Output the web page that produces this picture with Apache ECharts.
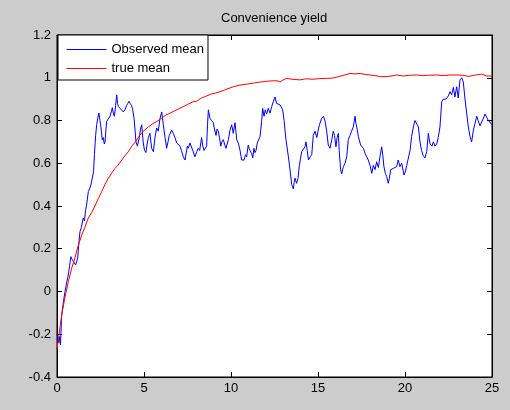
<!DOCTYPE html>
<html>
<head>
<meta charset="utf-8">
<title>Convenience yield</title>
<script src="https://cdn.jsdelivr.net/npm/echarts@6/dist/echarts.min.js"></script>
<style>
  html, body { margin: 0; padding: 0; background: #cccccc; }
  #chart { width: 510px; height: 410px; }
</style>
</head>
<body>
<div id="chart"></div>
<script>
// series, [time, value]
const observedMean = [
  [0, -0.2], [0.05, -0.22], [0.11, -0.24], [0.16, -0.21], [0.2, -0.25], [0.27, -0.11], [0.35, -0.06],
  [0.46, 0.0], [0.55, 0.04], [0.65, 0.077], [0.72, 0.12], [0.8, 0.163], [0.87, 0.15], [0.94, 0.147],
  [1.07, 0.124], [1.19, 0.157], [1.25, 0.22], [1.32, 0.28], [1.4, 0.3], [1.51, 0.344], [1.58, 0.33],
  [1.64, 0.38], [1.7, 0.405], [1.8, 0.467], [1.87, 0.48], [1.95, 0.498], [2.05, 0.5], [2.1, 0.56],
  [2.15, 0.64], [2.22, 0.73], [2.28, 0.78], [2.34, 0.81], [2.41, 0.835], [2.47, 0.8], [2.53, 0.765],
  [2.6, 0.71], [2.66, 0.72], [2.72, 0.69], [2.76, 0.7], [2.85, 0.795], [2.95, 0.8], [3.05, 0.82],
  [3.12, 0.84], [3.18, 0.86], [3.25, 0.83], [3.3, 0.82], [3.37, 0.87], [3.43, 0.92], [3.48, 0.88],
  [3.53, 0.865], [3.6, 0.87], [3.7, 0.85], [3.81, 0.84], [3.9, 0.85], [4.0, 0.87], [4.07, 0.88],
  [4.14, 0.89], [4.2, 0.88], [4.29, 0.87], [4.35, 0.85], [4.43, 0.81], [4.54, 0.7], [4.62, 0.68],
  [4.73, 0.72], [4.8, 0.76], [4.87, 0.78], [4.95, 0.7], [5.03, 0.66], [5.11, 0.65], [5.18, 0.69],
  [5.25, 0.72], [5.34, 0.74], [5.44, 0.67], [5.54, 0.654], [5.63, 0.72], [5.73, 0.765], [5.82, 0.75],
  [5.92, 0.81], [6.02, 0.84], [6.11, 0.78], [6.21, 0.72], [6.3, 0.67], [6.38, 0.7], [6.45, 0.73],
  [6.59, 0.755], [6.68, 0.74], [6.78, 0.72], [6.88, 0.695], [6.97, 0.7], [7.07, 0.68], [7.15, 0.66],
  [7.26, 0.63], [7.36, 0.615], [7.41, 0.62], [7.49, 0.68], [7.55, 0.67], [7.64, 0.695], [7.7, 0.69],
  [7.8, 0.66], [7.93, 0.63], [8.03, 0.654], [8.12, 0.67], [8.2, 0.66], [8.31, 0.72], [8.38, 0.68],
  [8.45, 0.66], [8.52, 0.67], [8.6, 0.68], [8.65, 0.78], [8.7, 0.85], [8.79, 0.81], [8.88, 0.8],
  [8.98, 0.79], [9.05, 0.76], [9.14, 0.73], [9.2, 0.76], [9.27, 0.75], [9.34, 0.72], [9.41, 0.68],
  [9.48, 0.7], [9.56, 0.71], [9.63, 0.69], [9.71, 0.67], [9.78, 0.69], [9.85, 0.71], [9.94, 0.755],
  [10.04, 0.78], [10.13, 0.74], [10.23, 0.79], [10.28, 0.75], [10.33, 0.71], [10.42, 0.695], [10.52, 0.66],
  [10.61, 0.615], [10.68, 0.62], [10.75, 0.615], [10.83, 0.64], [10.9, 0.63], [10.99, 0.685], [11.04, 0.67],
  [11.09, 0.66], [11.19, 0.645], [11.25, 0.625], [11.32, 0.67], [11.38, 0.65], [11.44, 0.66], [11.51, 0.695],
  [11.6, 0.69], [11.67, 0.725], [11.76, 0.795], [11.82, 0.857], [11.9, 0.82], [11.97, 0.85], [12.05, 0.83],
  [12.14, 0.857], [12.24, 0.834], [12.34, 0.865], [12.43, 0.888], [12.53, 0.91], [12.62, 0.88], [12.7, 0.885],
  [12.82, 0.873], [12.9, 0.875], [12.97, 0.85], [13.05, 0.8], [13.16, 0.71], [13.3, 0.63], [13.39, 0.57],
  [13.49, 0.5], [13.54, 0.49], [13.58, 0.48], [13.63, 0.51], [13.68, 0.53], [13.77, 0.506], [13.85, 0.53],
  [13.93, 0.59], [14.06, 0.654], [14.15, 0.66], [14.25, 0.677], [14.31, 0.7], [14.38, 0.66], [14.45, 0.615],
  [14.55, 0.63], [14.64, 0.64], [14.73, 0.73], [14.83, 0.75], [14.93, 0.72], [15.0, 0.75], [15.08, 0.78],
  [15.21, 0.81], [15.31, 0.82], [15.4, 0.8], [15.5, 0.75], [15.59, 0.685], [15.69, 0.67], [15.79, 0.71],
  [15.88, 0.75], [15.95, 0.73], [16.03, 0.677], [16.1, 0.72], [16.17, 0.74], [16.22, 0.66], [16.3, 0.57],
  [16.36, 0.55], [16.46, 0.584], [16.55, 0.6], [16.65, 0.63], [16.74, 0.71], [16.84, 0.73], [16.93, 0.75],
  [17.03, 0.77], [17.13, 0.82], [17.18, 0.787], [17.25, 0.76], [17.32, 0.725], [17.45, 0.685], [17.61, 0.67],
  [17.7, 0.647], [17.8, 0.63], [17.89, 0.615], [17.99, 0.59], [18.09, 0.553], [18.18, 0.59], [18.28, 0.57],
  [18.37, 0.607], [18.47, 0.58], [18.56, 0.63], [18.66, 0.677], [18.72, 0.64], [18.79, 0.584], [18.87, 0.553],
  [18.95, 0.537], [19.04, 0.506], [19.1, 0.53], [19.18, 0.57], [19.33, 0.576], [19.43, 0.576], [19.52, 0.584],
  [19.61, 0.615], [19.71, 0.584], [19.81, 0.6], [19.94, 0.545], [20.02, 0.56], [20.1, 0.59], [20.29, 0.66],
  [20.38, 0.725], [20.48, 0.77], [20.57, 0.8], [20.63, 0.795], [20.77, 0.77], [20.86, 0.7], [20.95, 0.66],
  [21.05, 0.635], [21.15, 0.625], [21.25, 0.655], [21.34, 0.74], [21.44, 0.69], [21.55, 0.68], [21.63, 0.7],
  [21.72, 0.68], [21.82, 0.69], [21.91, 0.72], [22.01, 0.77], [22.11, 0.888], [22.2, 0.9], [22.36, 0.9],
  [22.49, 0.915], [22.59, 0.935], [22.68, 0.92], [22.78, 0.955], [22.87, 0.91], [22.97, 0.958], [23.06, 0.905],
  [23.16, 0.99], [23.26, 1.0], [23.35, 0.98], [23.45, 0.9], [23.55, 0.83], [23.64, 0.77], [23.74, 0.725],
  [23.83, 0.7], [23.93, 0.755], [24.02, 0.785], [24.12, 0.82], [24.2, 0.8], [24.31, 0.775], [24.41, 0.77],
  [24.5, 0.81], [24.6, 0.83], [24.7, 0.83], [24.79, 0.8], [24.88, 0.8], [25.0, 0.78]
];

const trueMean = [
  [0, -0.27], [0.1, -0.21], [0.27, -0.11], [0.45, -0.03], [0.65, 0.046], [0.85, 0.11], [1.03, 0.157],
  [1.2, 0.21], [1.42, 0.264], [1.6, 0.3], [1.8, 0.344], [2.0, 0.37], [2.18, 0.4], [2.4, 0.44],
  [2.57, 0.467], [2.75, 0.5], [2.95, 0.53], [3.15, 0.555], [3.33, 0.576], [3.5, 0.59], [3.72, 0.615],
  [3.9, 0.635], [4.1, 0.654], [4.3, 0.68], [4.5, 0.7], [4.75, 0.73], [4.96, 0.75], [5.25, 0.77],
  [5.5, 0.785], [5.73, 0.795], [6.0, 0.81], [6.25, 0.825], [6.49, 0.834], [6.75, 0.845], [7.0, 0.855],
  [7.26, 0.865], [7.5, 0.875], [7.83, 0.888], [8.03, 0.89], [8.3, 0.905], [8.6, 0.915], [8.9, 0.925],
  [9.1, 0.928], [9.37, 0.935], [9.7, 0.945], [10.13, 0.958], [10.5, 0.965], [10.9, 0.97], [11.3, 0.975],
  [11.67, 0.98], [12.0, 0.983], [12.43, 0.986], [12.7, 0.985], [12.82, 0.98], [13.0, 0.99], [13.2, 0.997],
  [13.5, 0.993], [13.97, 0.99], [14.3, 0.995], [14.73, 0.993], [15.1, 0.996], [15.5, 0.997], [15.8, 0.998],
  [16.17, 1.005], [16.5, 1.012], [16.84, 1.02], [17.1, 1.018], [17.41, 1.02], [17.7, 1.016], [17.99, 1.013],
  [18.3, 1.01], [18.6, 1.005], [18.85, 1.005], [19.2, 1.008], [19.52, 1.013], [19.9, 1.008], [20.3, 1.012],
  [20.67, 1.013], [21.0, 1.01], [21.4, 1.012], [21.82, 1.013], [22.2, 1.01], [22.6, 1.013], [23.06, 1.013],
  [23.4, 1.011], [23.64, 1.006], [24.0, 1.012], [24.41, 1.017], [24.7, 1.008], [25.0, 1.008]
];

const seriesNames = ["Observed mean", "true mean"];

const font = "'Liberation Sans', Arial, sans-serif";
const chart = echarts.init(document.getElementById("chart"));

// matlab style box: ticks inside, on all four sides
const boxAxis = {
  axisLine: { show: true, onZero: false, lineStyle: { color: "#000", width: 1 } },
  axisTick: { show: true, inside: true, length: 5, lineStyle: { color: "#000" } },
  splitLine: { show: false },
};

const option = {
  animation: false,
  backgroundColor: "#cccccc",
  title: {
    text: "Convenience yield",
    left: 221,
    top: 12,
    padding: 0,
    textStyle: { fontFamily: font, fontSize: 13, fontWeight: "normal", color: "#000" },
  },
  legend: {
    orient: "vertical",
    left: 58,
    top: 35,
    padding: [8, 4, 5, 8],
    itemGap: 6,
    itemWidth: 40,
    itemHeight: 13,
    backgroundColor: "#fff",
    borderColor: "#000",
    borderWidth: 1,
    borderRadius: 0,
    itemStyle: { opacity: 0 }, // line only, no marker
    lineStyle: { width: 1 },
    data: seriesNames,
    textStyle: { fontFamily: font, fontSize: 13, color: "#000" },
  },
  grid: {
    left: 57,
    right: 18,
    top: 35,
    bottom: 33,
    show: true,
    backgroundColor: "#fff",
    borderColor: "#000",
    borderWidth: 1,
  },
  xAxis: [
    {
      ...boxAxis,
      type: "value",
      min: 0,
      max: 25,
      interval: 5,
      axisLabel: { margin: 5, color: "#000", fontFamily: font, fontSize: 13 },
    },
    {
      ...boxAxis,
      type: "value",
      position: "top",
      min: 0,
      max: 25,
      interval: 5,
      axisLabel: { show: false },
    },
  ],
  yAxis: [
    {
      ...boxAxis,
      type: "value",
      min: -0.4,
      max: 1.2,
      interval: 0.2,
      axisLabel: {
        margin: 6,
        color: "#000",
        fontFamily: font,
        fontSize: 13,
        formatter: (v) => String(+v.toFixed(1)),
      },
    },
    {
      ...boxAxis,
      type: "value",
      position: "right",
      min: -0.4,
      max: 1.2,
      interval: 0.2,
      axisLabel: { show: false },
    },
  ],
  series: [
    {
      name: seriesNames[0],
      type: "line",
      data: observedMean,
      symbol: "none",
      lineStyle: { color: "#0000ff", width: 1 },
      itemStyle: { color: "#0000ff" },
    },
    {
      name: seriesNames[1],
      type: "line",
      data: trueMean,
      symbol: "none",
      lineStyle: { color: "#ff0000", width: 1 },
      itemStyle: { color: "#ff0000" },
    },
  ],
};

chart.setOption(option);
</script>
</body>
</html>
